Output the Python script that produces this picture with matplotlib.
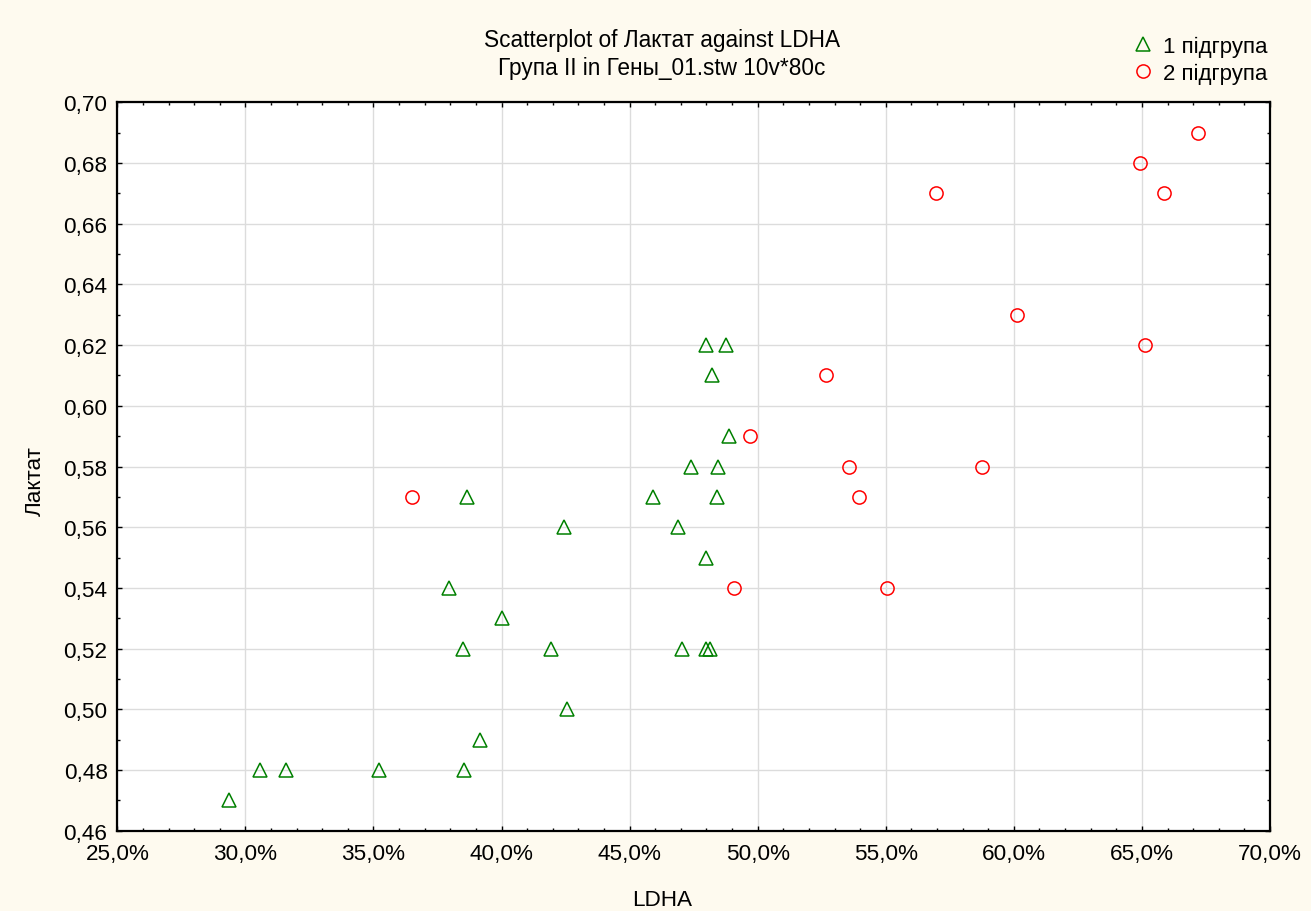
import matplotlib
matplotlib.use("Agg")
import matplotlib.pyplot as plt
from matplotlib.ticker import MultipleLocator, FuncFormatter

plt.rcParams['font.family'] = ['Liberation Sans', 'DejaVu Sans']

# Data: LDHA (%) and Лактат
g1_x = [29.35, 30.56, 31.60, 35.20, 38.53, 39.14, 42.55, 38.48, 41.94, 47.06,
        48.00, 48.15, 40.00, 37.93, 47.97, 42.44, 46.88, 38.66, 45.90, 48.40,
        47.41, 48.45, 48.88, 48.22, 47.97, 48.77]
g1_y = [0.47, 0.48, 0.48, 0.48, 0.48, 0.49, 0.50, 0.52, 0.52, 0.52,
        0.52, 0.52, 0.53, 0.54, 0.55, 0.56, 0.56, 0.57, 0.57, 0.57,
        0.58, 0.58, 0.59, 0.61, 0.62, 0.62]
g2_x = [36.50, 49.09, 49.70, 52.66, 53.57, 53.94, 55.03, 56.98, 58.74, 60.13,
        64.93, 65.13, 65.86, 67.19]
g2_y = [0.57, 0.54, 0.59, 0.61, 0.58, 0.57, 0.54, 0.67, 0.58, 0.63,
        0.68, 0.62, 0.67, 0.69]
series_labels = ["1 підгрупа", "2 підгрупа"]

bg = '#FEFAEF'
fig = plt.figure(figsize=(13.11, 9.12), dpi=100, facecolor=bg)
ax = fig.add_axes([0.0895, 0.0880, 0.8792, 0.7987])
ax.set_facecolor('white')

l1, = ax.plot(g1_x, g1_y, linestyle='none', marker='^', markersize=10,
              markerfacecolor='none', markeredgecolor='#008000', markeredgewidth=1.1,
              label=series_labels[0], zorder=3)
l2, = ax.plot(g2_x, g2_y, linestyle='none', marker='o', markersize=9.5,
              markerfacecolor='none', markeredgecolor='#FF0000', markeredgewidth=1.1,
              label=series_labels[1], zorder=3)

ax.set_xlim(25, 70)
ax.set_ylim(0.46, 0.70)
ax.xaxis.set_major_locator(MultipleLocator(5))
ax.xaxis.set_minor_locator(MultipleLocator(1))
ax.yaxis.set_major_locator(MultipleLocator(0.02))
ax.yaxis.set_minor_locator(MultipleLocator(0.01))
ax.xaxis.set_major_formatter(FuncFormatter(lambda v, p: f"{v:.1f}%".replace('.', ',')))
ax.yaxis.set_major_formatter(FuncFormatter(lambda v, p: f"{v:.2f}".replace('.', ',')))

ax.tick_params(which='both', direction='in', top=True, right=True, width=1.0, colors='black')
ax.tick_params(which='major', length=3.5, labelsize=16.2)
ax.tick_params(which='minor', length=2.5)
ax.tick_params(axis='y', which='major', pad=7)
ax.tick_params(axis='x', which='major', pad=9)

ax.grid(True, which='major', color='#DCDCDC', linewidth=1.0, zorder=0)
ax.set_axisbelow(True)
for s in ax.spines.values():
    s.set_linewidth(1.6)
    s.set_color('black')

fig.text(662 / 1311, 1 - 40 / 912, "Scatterplot of Лактат against LDHA", ha='center', va='center', fontsize=16.3)
fig.text(662 / 1311, 1 - 68 / 912, "Група II in Гены_01.stw 10v*80c", ha='center', va='center', fontsize=16.3)
fig.text(662 / 1311, 1 - 901 / 912, "LDHA", ha='center', va='center', fontsize=16.2)
fig.text(35 / 1311, 1 - 481 / 912, "Лактат", ha='center', va='center', rotation=90, fontsize=16.2)

fig.legend(handles=[l1, l2], loc='center left', bbox_to_anchor=(1132 / 1311, 1 - 61 / 912),
           frameon=False, fontsize=16, handletextpad=0.4, labelspacing=0.25,
           handlelength=1.0, borderaxespad=0, borderpad=0)

fig.savefig('out.png', dpi=100, facecolor=bg)
